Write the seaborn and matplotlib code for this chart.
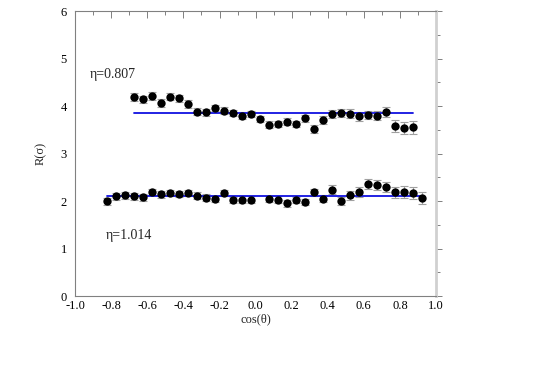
import matplotlib
matplotlib.use("Agg")
import matplotlib.pyplot as plt
from matplotlib.ticker import MultipleLocator
import seaborn as sns
import numpy as np
import pandas as pd

# upper series, eta = 0.807
x_upper = [-0.675, -0.625, -0.575, -0.525, -0.475, -0.425, -0.375, -0.325,
           -0.275, -0.225, -0.175, -0.125, -0.075, -0.025, 0.025, 0.075,
           0.125, 0.175, 0.225, 0.275, 0.325, 0.375, 0.425, 0.475, 0.525,
           0.575, 0.625, 0.675, 0.725, 0.775, 0.825, 0.875]
r_upper = [4.19, 4.14, 4.21, 4.06, 4.20, 4.16, 4.04, 3.88, 3.87, 3.96, 3.90,
           3.85, 3.80, 3.83, 3.73, 3.61, 3.62, 3.67, 3.62, 3.74, 3.52, 3.71,
           3.83, 3.85, 3.84, 3.78, 3.81, 3.80, 3.87, 3.58, 3.54, 3.55]
err_upper = [0.08, 0.08, 0.08, 0.08, 0.08, 0.08, 0.08, 0.07, 0.07, 0.07, 0.07,
             0.07, 0.07, 0.07, 0.07, 0.07, 0.07, 0.07, 0.07, 0.08, 0.08, 0.08,
             0.08, 0.09, 0.09, 0.09, 0.09, 0.10, 0.11, 0.12, 0.12, 0.13]
fit_upper = 3.85

# lower series, eta = 1.014
x_lower = [-0.825, -0.775, -0.725, -0.675, -0.625, -0.575, -0.525, -0.475,
           -0.425, -0.375, -0.325, -0.275, -0.225, -0.175, -0.125, -0.075,
           -0.025, 0.075, 0.125, 0.175, 0.225, 0.275, 0.325, 0.375, 0.425,
           0.475, 0.525, 0.575, 0.625, 0.675, 0.725, 0.775, 0.825, 0.875,
           0.925]
r_lower = [1.99, 2.10, 2.12, 2.10, 2.08, 2.19, 2.14, 2.17, 2.15, 2.17, 2.11,
           2.07, 2.04, 2.17, 2.02, 2.03, 2.03, 2.04, 2.03, 1.95, 2.02, 1.98,
           2.18, 2.05, 2.24, 2.00, 2.12, 2.19, 2.36, 2.34, 2.29, 2.18, 2.19,
           2.17, 2.07]
err_lower = [0.08, 0.07, 0.07, 0.07, 0.07, 0.07, 0.07, 0.07, 0.07, 0.07, 0.07,
             0.07, 0.07, 0.07, 0.07, 0.07, 0.07, 0.07, 0.07, 0.07, 0.07, 0.07,
             0.08, 0.08, 0.09, 0.09, 0.09, 0.10, 0.11, 0.11, 0.11, 0.11, 0.12,
             0.12, 0.13]
fit_lower = 2.10

labels = ["η=0.807", "η=1.014"]
x_ticks = [-1.0, -0.8, -0.6, -0.4, -0.2, 0.0, 0.2, 0.4, 0.6, 0.8, 1.0]
x_ticklabels = ["-1.0", "-0.8", "-0.6", "-0.4", "-0.2", "0.0",
                "0.2", "0.4", "0.6", "0.8", "1.0"]

sns.set_style("white")
plt.rcParams["font.family"] = ["Liberation Serif", "DejaVu Serif"]

fig = plt.figure(figsize=(5.45, 3.8), dpi=100)
ax = fig.add_axes([0.138, 0.221, 0.662, 0.750])

for xs, rs, es, fit in [(x_upper, r_upper, err_upper, fit_upper),
                        (x_lower, r_lower, err_lower, fit_lower)]:
    ax.errorbar(xs, rs, yerr=es, fmt="none", ecolor="#a0a0a0",
                elinewidth=0.8, capsize=3, capthick=0.8, zorder=1)
    df = pd.DataFrame({"x": xs, "r": rs})
    fit_df = pd.DataFrame({"x": [xs[0], xs[-1]], "r": [fit, fit]})
    sns.lineplot(data=fit_df, x="x", y="r", color="#1010e0", lw=1.3,
                 ax=ax, zorder=2)
    sns.scatterplot(data=df, x="x", y="r", color="black", s=36,
                    edgecolor="black", linewidth=0, ax=ax, zorder=3)

ax.text(-0.917, 4.66, labels[0], fontsize=10, va="center", ha="left")
ax.text(-0.83, 1.27, labels[1], fontsize=10, va="center", ha="left")

ax.set_xlim(-1.0, 1.0)
ax.set_ylim(0, 6)
ax.set_xticks(x_ticks)
ax.set_xticklabels(x_ticklabels)
ax.xaxis.set_minor_locator(MultipleLocator(0.1))
ax.yaxis.set_major_locator(MultipleLocator(1))
ax.yaxis.set_minor_locator(MultipleLocator(0.5))

ax.set_xlabel("cos(θ)", fontsize=9, labelpad=1)
ax.set_ylabel("R(σ)", fontsize=9, labelpad=10)

for side in ["left", "bottom", "top"]:
    ax.spines[side].set_color("#808080")
    ax.spines[side].set_linewidth(0.8)
ax.spines["right"].set_color("#d0d0d0")
ax.spines["right"].set_linewidth(2.0)

ax.tick_params(axis="both", which="both", labelsize=9, colors="#808080",
               labelcolor="black", width=0.7)
ax.tick_params(axis="x", which="both", direction="in", top=True)
ax.tick_params(axis="x", which="major", length=5, pad=3)
ax.tick_params(axis="x", which="minor", length=3)
ax.tick_params(axis="y", which="both", direction="out", right=True)
ax.tick_params(axis="y", which="major", length=4, pad=2)
ax.tick_params(axis="y", which="minor", length=3)

fig.savefig("out.png", dpi=100)
